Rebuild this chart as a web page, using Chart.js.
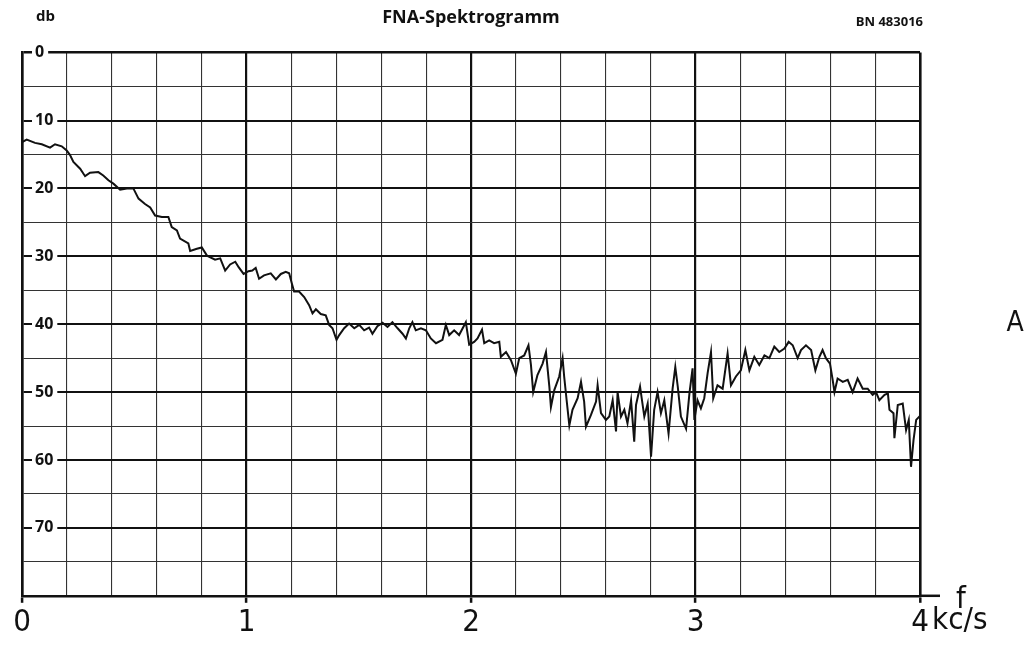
<!DOCTYPE html>
<html>
<head>
<meta charset="utf-8">
<title>FNA-Spektrogramm</title>
<script src="https://cdn.jsdelivr.net/npm/chart.js@4.4.1/dist/chart.umd.min.js"></script>
<style>
  html, body { margin: 0; padding: 0; background: #fff; }
  #wrap { width: 1032px; height: 648px; position: relative; }
</style>
</head>
<body>
<div id="wrap"><canvas id="spektrum"></canvas></div>
<script>
// frequency in kc/s
const freq = [
  0.000, 0.021, 0.058, 0.088, 0.125, 0.147, 0.177, 0.199, 0.214, 0.229,
  0.259, 0.281, 0.303, 0.340, 0.362, 0.385, 0.407, 0.437, 0.467, 0.496,
  0.519, 0.548, 0.571, 0.593, 0.623, 0.652, 0.667, 0.690, 0.704, 0.741,
  0.749, 0.779, 0.801, 0.824, 0.860, 0.883, 0.905, 0.927, 0.950, 0.965,
  0.987, 1.009, 1.026, 1.041, 1.056, 1.078, 1.108, 1.131, 1.153, 1.175,
  1.190, 1.202, 1.212, 1.234, 1.257, 1.279, 1.294, 1.309, 1.331, 1.353,
  1.368, 1.383, 1.401, 1.413, 1.435, 1.457, 1.480, 1.502, 1.524, 1.546,
  1.561, 1.583, 1.606, 1.628, 1.650, 1.673, 1.695, 1.710, 1.725, 1.739,
  1.754, 1.777, 1.799, 1.821, 1.844, 1.873, 1.888, 1.903, 1.925, 1.947,
  1.977, 1.992, 2.014, 2.029, 2.049, 2.059, 2.081, 2.103, 2.126, 2.133,
  2.156, 2.178, 2.200, 2.215, 2.237, 2.256, 2.267, 2.277, 2.296, 2.319,
  2.334, 2.349, 2.356, 2.371, 2.393, 2.408, 2.415, 2.426, 2.438, 2.452,
  2.475, 2.490, 2.504, 2.512, 2.534, 2.557, 2.564, 2.579, 2.601, 2.616,
  2.631, 2.646, 2.653, 2.668, 2.683, 2.697, 2.713, 2.727, 2.735, 2.753,
  2.772, 2.787, 2.802, 2.816, 2.831, 2.846, 2.861, 2.880, 2.898, 2.910,
  2.921, 2.935, 2.958, 2.973, 2.987, 2.995, 3.009, 3.024, 3.039, 3.054,
  3.069, 3.079, 3.098, 3.121, 3.143, 3.158, 3.180, 3.202, 3.222, 3.240,
  3.262, 3.284, 3.307, 3.329, 3.351, 3.373, 3.396, 3.415, 3.433, 3.455,
  3.470, 3.492, 3.515, 3.534, 3.552, 3.566, 3.581, 3.599, 3.611, 3.619,
  3.633, 3.656, 3.678, 3.700, 3.722, 3.745, 3.767, 3.789, 3.804, 3.819,
  3.842, 3.857, 3.864, 3.882, 3.886, 3.901, 3.923, 3.938, 3.950, 3.960,
  3.971, 3.983, 4.000
];

// level in db (attenuation, drawn downwards)
const dbLevel = [
  13.2, 12.8, 13.3, 13.5, 14.0, 13.5, 13.8, 14.4, 15.1, 16.1,
  17.1, 18.2, 17.7, 17.6, 18.1, 18.8, 19.3, 20.2, 20.0, 20.0,
  21.5, 22.3, 22.8, 24.0, 24.2, 24.2, 25.7, 26.2, 27.4, 28.1,
  29.2, 28.9, 28.7, 29.9, 30.5, 30.3, 32.1, 31.2, 30.8, 31.6,
  32.6, 32.2, 32.1, 31.7, 33.3, 32.8, 32.5, 33.4, 32.6, 32.3,
  32.5, 34.0, 35.2, 35.2, 36.0, 37.2, 38.4, 37.8, 38.5, 38.7,
  40.1, 40.6, 42.3, 41.6, 40.6, 39.9, 40.6, 40.1, 40.9, 40.5,
  41.4, 40.3, 39.8, 40.4, 39.7, 40.6, 41.4, 42.1, 40.6, 39.7,
  40.9, 40.6, 40.9, 42.1, 42.8, 42.3, 40.1, 41.6, 40.9, 41.6,
  39.7, 43.0, 42.6, 42.1, 40.8, 42.8, 42.4, 42.8, 42.6, 44.8,
  44.1, 45.3, 47.3, 45.0, 44.6, 43.1, 46.0, 50.0, 47.5, 45.8,
  44.1, 49.2, 52.2, 49.7, 47.7, 45.0, 47.7, 51.2, 54.9, 52.6,
  50.9, 48.5, 51.4, 55.1, 53.4, 51.4, 49.0, 53.1, 54.1, 53.6,
  51.2, 55.8, 50.0, 53.6, 52.6, 54.6, 51.2, 57.3, 51.9, 49.2,
  53.6, 51.7, 59.5, 52.6, 50.0, 53.1, 51.2, 56.1, 49.5, 46.3,
  49.2, 53.6, 55.4, 50.2, 46.5, 54.1, 51.2, 52.4, 50.9, 47.2,
  44.1, 50.9, 49.0, 49.5, 44.3, 49.0, 47.7, 46.8, 43.8, 46.8,
  44.8, 46.0, 44.6, 45.0, 43.3, 44.1, 43.6, 42.6, 43.1, 45.0,
  43.8, 43.1, 43.8, 46.8, 44.8, 43.8, 45.0, 45.8, 48.2, 50.0,
  48.0, 48.5, 48.2, 50.0, 48.0, 49.5, 49.5, 50.4, 50.0, 51.2,
  50.4, 50.2, 52.6, 53.1, 56.8, 51.9, 51.7, 55.6, 54.1, 61.0,
  57.1, 54.1, 53.5
];

// axis labels
const xTickLabels = ['0', '1', '2', '3', '4'];
const yTickLabels = ['0', '10', '20', '30', '40', '50', '60', '70', ''];
const xUnit = 'kc/s';
const xName = 'f';
const yUnit = 'db';
const chartTitle = 'FNA-Spektrogramm';
const sheetNo = 'BN 483016';
const sideMark = 'A';

const ink = '#111';
const labelFont = "'Liberation Sans Narrow', 'DejaVu Sans Condensed', sans-serif";
const boldFont = "'Open Sans', 'DejaVu Sans', sans-serif";

const isWhole = v => Math.abs(v - Math.round(v)) < 1e-6;

// extra texts round the grid
const sheetText = {
  id: 'sheetText',
  afterDraw(chart) {
    const { ctx, scales: { x, y } } = chart;
    ctx.save();
    ctx.fillStyle = ink;
    ctx.textBaseline = 'middle';

    ctx.font = "bold 15px " + boldFont;
    ctx.textAlign = 'left';
    ctx.fillText(yUnit, x.left + 14, 17);

    ctx.font = "bold 13px " + boldFont;
    ctx.textAlign = 'right';
    ctx.fillText(sheetNo, x.right + 3, 22);

    // axis runs on a little past 4
    ctx.strokeStyle = ink;
    ctx.lineWidth = 2.5;
    ctx.beginPath();
    ctx.moveTo(x.right, y.bottom);
    ctx.lineTo(x.right + 20, y.bottom);
    ctx.stroke();

    ctx.font = "31px " + labelFont;
    ctx.textAlign = 'left';
    ctx.fillText(xName, x.right + 36, y.bottom + 4);
    ctx.fillText(xUnit, x.right + 12, y.bottom + 25);

    ctx.font = "28px " + labelFont;
    ctx.textAlign = 'center';
    ctx.fillText(sideMark, chart.width - 17, y.getPixelForValue(40));
    ctx.restore();
  }
};

new Chart(document.getElementById('spektrum'), {
  type: 'line',
  data: {
    datasets: [{
      data: freq.map((f, i) => ({ x: f, y: dbLevel[i] })),
      borderColor: ink,
      borderWidth: 2,
      pointRadius: 0,
      tension: 0,
      fill: false
    }]
  },
  options: {
    responsive: true,
    maintainAspectRatio: false,
    animation: false,
    layout: { padding: { left: -4, right: 112, top: 0, bottom: 4 } },
    plugins: {
      legend: { display: false },
      tooltip: { enabled: false },
      title: {
        display: true,
        text: chartTitle,
        fullSize: false,
        color: ink,
        font: { family: boldFont, size: 18, weight: 'bold' },
        padding: { top: 7, bottom: 24 }
      }
    },
    scales: {
      x: {
        type: 'linear',
        min: 0,
        max: 4,
        ticks: {
          stepSize: 0.2,
          autoSkip: false,
          maxRotation: 0,
          padding: 2,
          color: ink,
          font: { family: labelFont, size: 31 },
          callback: v => isWhole(v) ? xTickLabels[Math.round(v)] : ''
        },
        grid: {
          color: ctx => isWhole(ctx.tick.value) ? ink : '#333',
          lineWidth: ctx => isWhole(ctx.tick.value) ? (ctx.tick.value === 4 ? 2.6 : 2.2) : 1.1,
          drawTicks: true,
          tickLength: 7,
          tickColor: ctx => isWhole(ctx.tick.value) ? ink : 'rgba(0,0,0,0)',
          tickWidth: 2.5
        },
        border: { display: true, color: ink, width: 2.6 }
      },
      y: {
        type: 'linear',
        reverse: true,
        min: 0,
        max: 80,
        ticks: {
          stepSize: 5,
          autoSkip: false,
          mirror: true,
          padding: 13,
          color: ink,
          font: { family: boldFont, size: 16, weight: 'bold' },
          showLabelBackdrop: true,
          backdropColor: ctx => ctx.tick.value % 10 === 0 && ctx.tick.value < 80 ? '#fff' : 'rgba(0,0,0,0)',
          backdropPadding: { left: 3, right: 4, top: 0, bottom: 0 },
          callback: v => v % 10 === 0 ? yTickLabels[v / 10] : ''
        },
        grid: {
          color: ctx => ctx.tick.value % 10 === 0 ? ink : '#333',
          lineWidth: ctx => ctx.tick.value % 10 === 0 ? (ctx.tick.value === 0 ? 2.6 : 2) : 1.1,
          drawTicks: false
        },
        border: { display: true, color: ink, width: 2.6 }
      }
    }
  },
  plugins: [sheetText]
});
</script>
</body>
</html>
